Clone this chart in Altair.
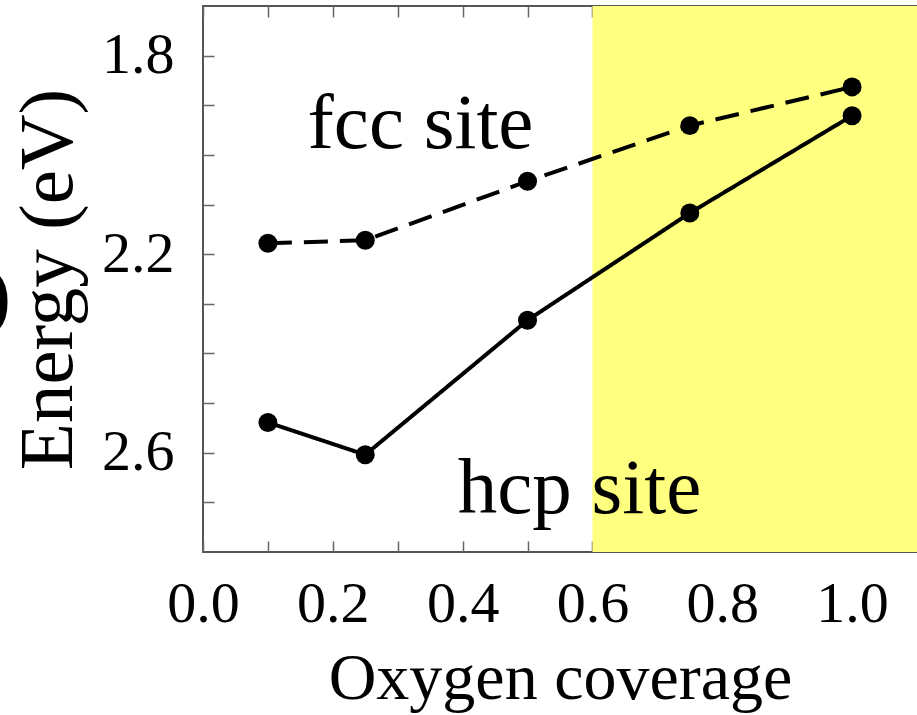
import altair as alt
import pandas as pd

coverage = [0.1, 0.25, 0.5, 0.75, 1.0]
fcc_energy = [2.178, 2.172, 2.053, 1.941, 1.863]
hcp_energy = [2.539, 2.604, 2.333, 2.117, 1.921]

x_ticks = [0.0, 0.1, 0.2, 0.3, 0.4, 0.5, 0.6, 0.7, 0.8, 0.9, 1.0]
y_ticks = [1.8, 1.9, 2.0, 2.1, 2.2, 2.3, 2.4, 2.5, 2.6, 2.7]

band_start = [0.6]
band_end = [1.1]
band_top = [1.7]
band_bottom = [2.8]

label_text = ["fcc site", "hcp site"]
label_x = [0.335, 0.58]
label_y = [1.986, 2.721]

FONT = "Liberation Serif"
W, H = 714, 546

df = pd.DataFrame(
    {
        "x": coverage * 2,
        "y": fcc_energy + hcp_energy,
        "site": ["fcc"] * len(coverage) + ["hcp"] * len(coverage),
    }
)
band = pd.DataFrame({"x": band_start, "x2": band_end, "y": band_top, "y2": band_bottom})
labels = pd.DataFrame({"t": label_text, "x": label_x, "y": label_y})

xs = alt.Scale(domain=[0, 1.1], nice=False, zero=False)
ys = alt.Scale(domain=[1.7, 2.8], nice=False, zero=False, reverse=True)

tick_common = dict(
    tickSize=11,
    offset=-11,
    tickColor="#666666",
    tickWidth=1.5,
    domain=False,
    grid=False,
    labelFlush=False,
    labelFont=FONT,
    labelColor="black",
    titleFont=FONT,
    titleColor="black",
    titleFontWeight="normal",
)

x_bottom = alt.Axis(
    orient="bottom",
    values=x_ticks,
    labelExpr="round(datum.value*10) % 2 == 0 ? format(datum.value, '.1f') : ''",
    labelFontSize=58,
    labelPadding=23,
    labelOverlap=False,
    title="Oxygen coverage",
    titleFontSize=66,
    titlePadding=13,
    **tick_common,
)
y_left = alt.Axis(
    orient="left",
    values=y_ticks,
    labelExpr="round(datum.value*10) % 4 == 2 ? format(datum.value, '.1f') : ''",
    labelFontSize=58,
    labelPadding=29,
    labelOverlap=False,
    title="Energy (eV)",
    titleFontSize=77,
    titlePadding=14,
    **tick_common,
)
x_top = alt.Axis(orient="top", values=x_ticks, labels=False, title=None, **tick_common)
y_right = alt.Axis(orient="right", values=y_ticks, labels=False, title=None, **tick_common)

band_layer = alt.Chart(band).mark_rect(color="#FFFF80").encode(
    x=alt.X("x:Q", scale=xs, axis=x_bottom),
    x2="x2:Q",
    y=alt.Y("y:Q", scale=ys, axis=y_left),
    y2="y2:Q",
)

lines = alt.Chart(df).mark_line(color="black", strokeWidth=4).encode(
    x=alt.X("x:Q", scale=xs, axis=x_top),
    y=alt.Y("y:Q", scale=ys, axis=y_right),
    strokeDash=alt.StrokeDash(
        "site:N",
        scale=alt.Scale(domain=["fcc", "hcp"], range=[[24, 12], [1, 0]]),
        legend=None,
    ),
    detail="site:N",
)

points = alt.Chart(df).mark_point(filled=True, color="black", size=360, opacity=1).encode(
    x=alt.X("x:Q", scale=xs, axis=None),
    y=alt.Y("y:Q", scale=ys, axis=None),
)

texts = alt.Chart(labels).mark_text(
    font=FONT, fontSize=79, color="black", align="center", baseline="alphabetic"
).encode(
    x=alt.X("x:Q", scale=xs, axis=None),
    y=alt.Y("y:Q", scale=ys, axis=None),
    text="t:N",
)

frag = alt.Chart(pd.DataFrame({"t": [")"]})).mark_text(
    font=FONT, fontSize=78, fontWeight="bold", color="black", align="right", baseline="middle"
).encode(x=alt.value(-192), y=alt.value(292), text="t:N")

chart = (
    alt.layer(band_layer, lines, points, texts, frag)
    .resolve_axis(x="independent", y="independent")
    .properties(
        width=W,
        height=H,
        autosize=alt.AutoSizeParams(type="none"),
        padding={"left": 203, "top": 6, "right": 0, "bottom": 163},
        background="white",
    )
    .configure_view(stroke="#555555", strokeWidth=2, clip=False)
)

chart.save("out.html", embed_options={"renderer": "svg", "actions": False})
